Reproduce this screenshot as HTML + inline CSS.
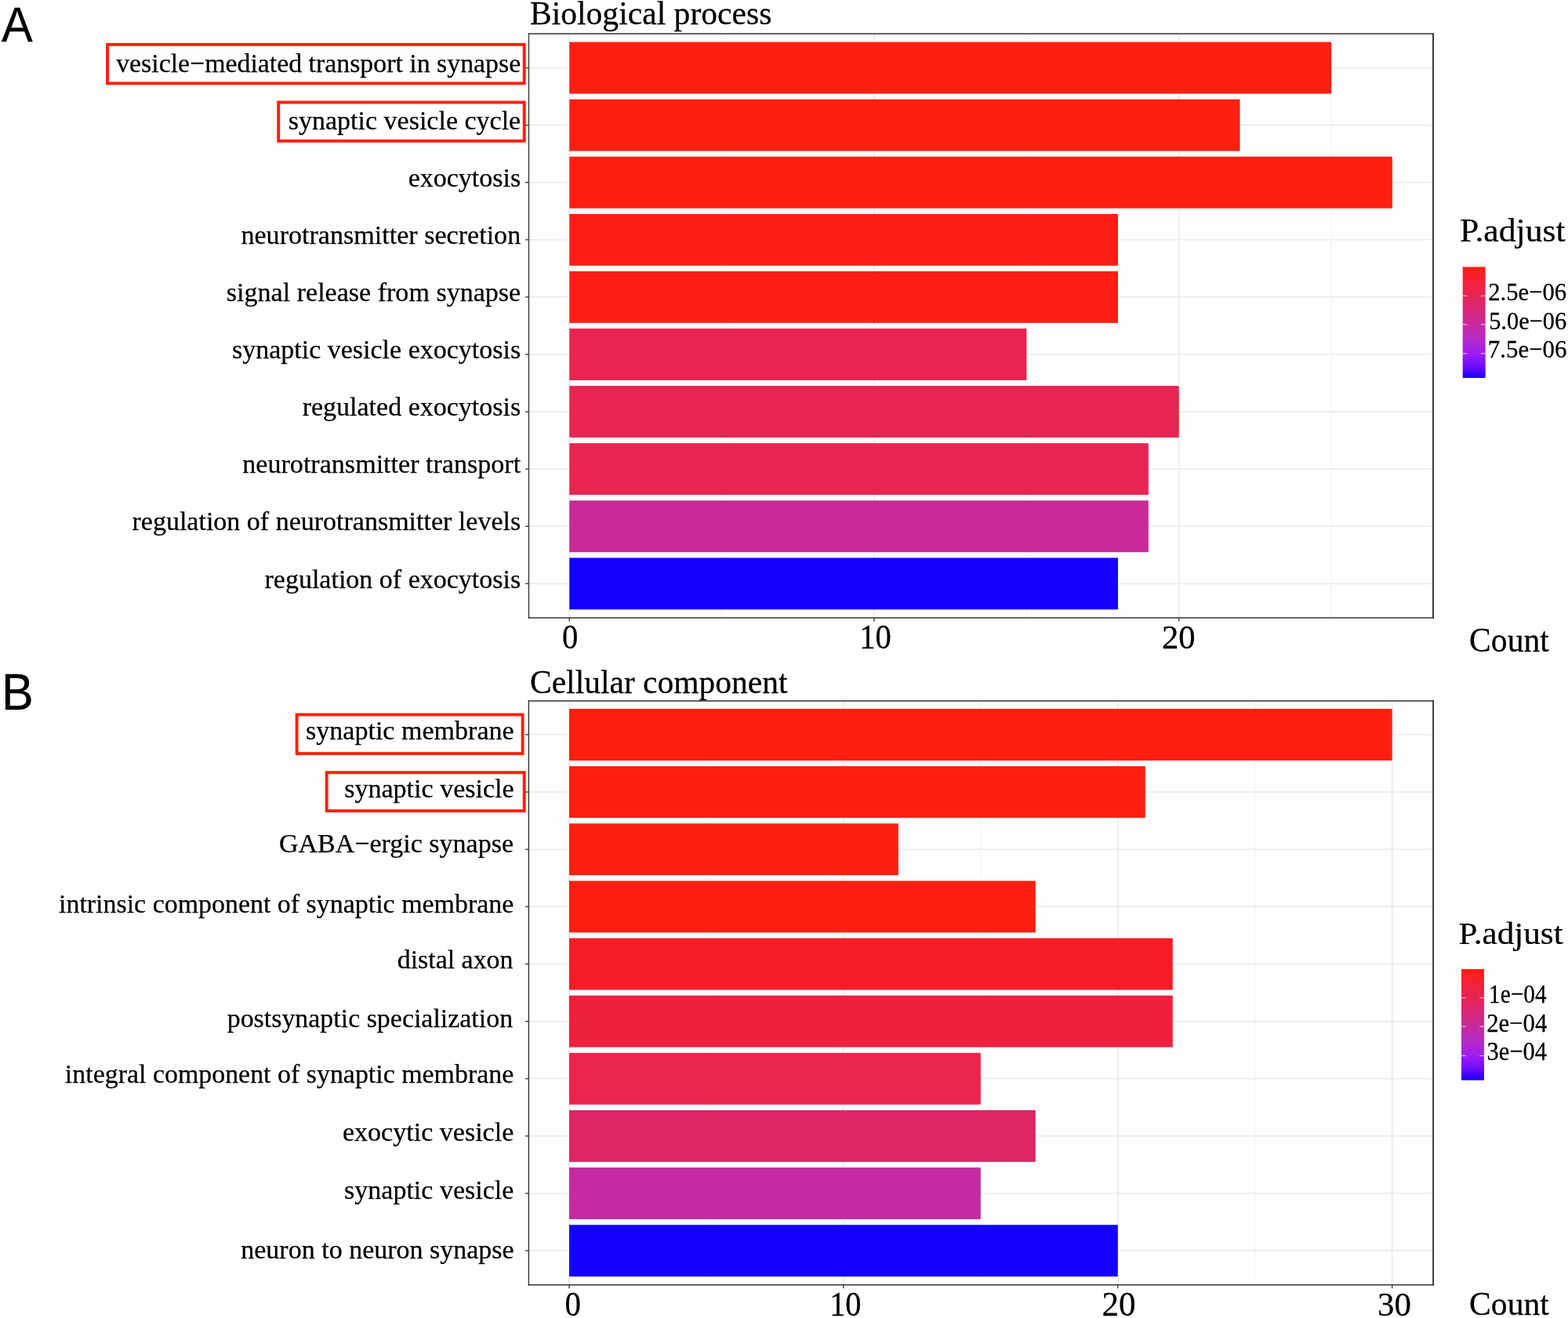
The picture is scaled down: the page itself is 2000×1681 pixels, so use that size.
<!DOCTYPE html><html><head><meta charset="utf-8"><title>GO enrichment barplots</title><style>html,body{margin:0;padding:0;background:#fefefe;overflow:hidden}svg{display:block}text{stroke:#000;stroke-width:0.25px}</style></head><body>
<svg width="2000" height="1681" viewBox="0 0 2000 1681">
<defs><linearGradient id="gA" x1="0" y1="0" x2="0" y2="1"><stop offset="0" stop-color="#FF1F10"/><stop offset="0.13" stop-color="#F4213A"/><stop offset="0.26" stop-color="#E72455"/><stop offset="0.39" stop-color="#D9277A"/><stop offset="0.52" stop-color="#C82A9E"/><stop offset="0.65" stop-color="#B52AC9"/><stop offset="0.78" stop-color="#A01DF3"/><stop offset="0.9" stop-color="#6A0CFF"/><stop offset="1" stop-color="#1500FF"/></linearGradient></defs>
<rect width="2000" height="1681" fill="#fefefe"/>
<line x1="920.62" y1="43.0" x2="920.62" y2="788.0" stroke="#F3F3F3" stroke-width="1.2"/>
<line x1="1309.38" y1="43.0" x2="1309.38" y2="788.0" stroke="#F3F3F3" stroke-width="1.2"/>
<line x1="1698.12" y1="43.0" x2="1698.12" y2="788.0" stroke="#F3F3F3" stroke-width="1.2"/>
<line x1="726.25" y1="43.0" x2="726.25" y2="788.0" stroke="#EBEBEB" stroke-width="1.8"/>
<line x1="1115.00" y1="43.0" x2="1115.00" y2="788.0" stroke="#EBEBEB" stroke-width="1.8"/>
<line x1="1503.75" y1="43.0" x2="1503.75" y2="788.0" stroke="#EBEBEB" stroke-width="1.8"/>
<line x1="674.5" y1="86.50" x2="1828.0" y2="86.50" stroke="#EBEBEB" stroke-width="1.6"/>
<line x1="674.5" y1="159.60" x2="1828.0" y2="159.60" stroke="#EBEBEB" stroke-width="1.6"/>
<line x1="674.5" y1="232.70" x2="1828.0" y2="232.70" stroke="#EBEBEB" stroke-width="1.6"/>
<line x1="674.5" y1="305.80" x2="1828.0" y2="305.80" stroke="#EBEBEB" stroke-width="1.6"/>
<line x1="674.5" y1="378.90" x2="1828.0" y2="378.90" stroke="#EBEBEB" stroke-width="1.6"/>
<line x1="674.5" y1="452.00" x2="1828.0" y2="452.00" stroke="#EBEBEB" stroke-width="1.6"/>
<line x1="674.5" y1="525.10" x2="1828.0" y2="525.10" stroke="#EBEBEB" stroke-width="1.6"/>
<line x1="674.5" y1="598.20" x2="1828.0" y2="598.20" stroke="#EBEBEB" stroke-width="1.6"/>
<line x1="674.5" y1="671.30" x2="1828.0" y2="671.30" stroke="#EBEBEB" stroke-width="1.6"/>
<line x1="674.5" y1="744.40" x2="1828.0" y2="744.40" stroke="#EBEBEB" stroke-width="1.6"/>
<rect x="726.25" y="53.55" width="971.88" height="65.9" fill="#FF1F10"/>
<rect x="726.25" y="126.65" width="855.25" height="65.9" fill="#FF1F10"/>
<rect x="726.25" y="199.75" width="1049.62" height="65.9" fill="#FF1F10"/>
<rect x="726.25" y="272.85" width="699.75" height="65.9" fill="#FE1E17"/>
<rect x="726.25" y="345.95" width="699.75" height="65.9" fill="#FE1E17"/>
<rect x="726.25" y="419.05" width="583.12" height="65.9" fill="#EA2450"/>
<rect x="726.25" y="492.15" width="777.50" height="65.9" fill="#EA2450"/>
<rect x="726.25" y="565.25" width="738.62" height="65.9" fill="#EA2450"/>
<rect x="726.25" y="638.35" width="738.62" height="65.9" fill="#C92A98"/>
<rect x="726.25" y="711.45" width="699.75" height="65.9" fill="#1500FF"/>
<g stroke="#333" stroke-linecap="square"><line x1="674.5" y1="43.0" x2="1828.0" y2="43.0" stroke-width="1.3"/><line x1="1828.0" y1="43.0" x2="1828.0" y2="788.0" stroke-width="1.9"/><line x1="674.5" y1="788.0" x2="1828.0" y2="788.0" stroke-width="1.5"/><line x1="674.5" y1="43.0" x2="674.5" y2="788.0" stroke-width="1.3"/></g>
<line x1="670.0" y1="86.50" x2="674.5" y2="86.50" stroke="#333" stroke-width="1.3"/>
<line x1="670.0" y1="159.60" x2="674.5" y2="159.60" stroke="#333" stroke-width="1.3"/>
<line x1="670.0" y1="232.70" x2="674.5" y2="232.70" stroke="#333" stroke-width="1.3"/>
<line x1="670.0" y1="305.80" x2="674.5" y2="305.80" stroke="#333" stroke-width="1.3"/>
<line x1="670.0" y1="378.90" x2="674.5" y2="378.90" stroke="#333" stroke-width="1.3"/>
<line x1="670.0" y1="452.00" x2="674.5" y2="452.00" stroke="#333" stroke-width="1.3"/>
<line x1="670.0" y1="525.10" x2="674.5" y2="525.10" stroke="#333" stroke-width="1.3"/>
<line x1="670.0" y1="598.20" x2="674.5" y2="598.20" stroke="#333" stroke-width="1.3"/>
<line x1="670.0" y1="671.30" x2="674.5" y2="671.30" stroke="#333" stroke-width="1.3"/>
<line x1="670.0" y1="744.40" x2="674.5" y2="744.40" stroke="#333" stroke-width="1.3"/>
<line x1="726.25" y1="788.0" x2="726.25" y2="792.5" stroke="#333" stroke-width="1.3"/>
<line x1="1115.00" y1="788.0" x2="1115.00" y2="792.5" stroke="#333" stroke-width="1.3"/>
<line x1="1503.75" y1="788.0" x2="1503.75" y2="792.5" stroke="#333" stroke-width="1.3"/>
<g font-family="'Liberation Serif','Times New Roman',Times,serif">
<text x="664.2" y="91.6" font-size="33.85" text-anchor="end">vesicle−mediated transport in synapse</text>
<text x="664.2" y="164.8" font-size="34" text-anchor="end">synaptic vesicle cycle</text>
<text x="664.2" y="238.0" font-size="34" text-anchor="end">exocytosis</text>
<text x="664.2" y="311.0" font-size="34.1" text-anchor="end">neurotransmitter secretion</text>
<text x="664.2" y="384.0" font-size="34.05" text-anchor="end">signal release from synapse</text>
<text x="664.2" y="457.1" font-size="34" text-anchor="end">synaptic vesicle exocytosis</text>
<text x="664.2" y="530.0" font-size="34" text-anchor="end">regulated exocytosis</text>
<text x="664.2" y="603.2" font-size="34.1" text-anchor="end">neurotransmitter transport</text>
<text x="664.2" y="676.4" font-size="34" text-anchor="end">regulation of neurotransmitter levels</text>
<text x="664.2" y="749.6" font-size="34" text-anchor="end">regulation of exocytosis</text>
</g>
<text transform="translate(717.05,826.51) scale(1,1.0713)" font-family="'Liberation Serif','Times New Roman',Times,serif" font-size="40.64">0</text>
<text transform="translate(1096.21,826.51) scale(1,1.0723)" font-family="'Liberation Serif','Times New Roman',Times,serif" font-size="40.61">10</text>
<text transform="translate(1481.90,826.80) scale(1,1.0096)" font-family="'Liberation Serif','Times New Roman',Times,serif" font-size="42.72">20</text>
<text transform="translate(675.89,31.30) scale(1,1.0062)" font-family="'Liberation Serif','Times New Roman',Times,serif" font-size="41.62">Biological process</text>
<rect x="137.0" y="56.8" width="531.7" height="49.5" fill="none" stroke="#FF1E0E" stroke-width="3.9"/>
<rect x="355.2" y="130.5" width="313.50000000000006" height="49.30000000000001" fill="none" stroke="#FF1E0E" stroke-width="3.9"/>
<line x1="900.95" y1="894.0" x2="900.95" y2="1638.7" stroke="#F3F3F3" stroke-width="1.2"/>
<line x1="1250.85" y1="894.0" x2="1250.85" y2="1638.7" stroke="#F3F3F3" stroke-width="1.2"/>
<line x1="1600.75" y1="894.0" x2="1600.75" y2="1638.7" stroke="#F3F3F3" stroke-width="1.2"/>
<line x1="726.00" y1="894.0" x2="726.00" y2="1638.7" stroke="#EBEBEB" stroke-width="1.8"/>
<line x1="1075.90" y1="894.0" x2="1075.90" y2="1638.7" stroke="#EBEBEB" stroke-width="1.8"/>
<line x1="1425.80" y1="894.0" x2="1425.80" y2="1638.7" stroke="#EBEBEB" stroke-width="1.8"/>
<line x1="1775.70" y1="894.0" x2="1775.70" y2="1638.7" stroke="#EBEBEB" stroke-width="1.8"/>
<line x1="674.4" y1="937.00" x2="1828.1" y2="937.00" stroke="#EBEBEB" stroke-width="1.6"/>
<line x1="674.4" y1="1010.13" x2="1828.1" y2="1010.13" stroke="#EBEBEB" stroke-width="1.6"/>
<line x1="674.4" y1="1083.26" x2="1828.1" y2="1083.26" stroke="#EBEBEB" stroke-width="1.6"/>
<line x1="674.4" y1="1156.39" x2="1828.1" y2="1156.39" stroke="#EBEBEB" stroke-width="1.6"/>
<line x1="674.4" y1="1229.52" x2="1828.1" y2="1229.52" stroke="#EBEBEB" stroke-width="1.6"/>
<line x1="674.4" y1="1302.65" x2="1828.1" y2="1302.65" stroke="#EBEBEB" stroke-width="1.6"/>
<line x1="674.4" y1="1375.78" x2="1828.1" y2="1375.78" stroke="#EBEBEB" stroke-width="1.6"/>
<line x1="674.4" y1="1448.91" x2="1828.1" y2="1448.91" stroke="#EBEBEB" stroke-width="1.6"/>
<line x1="674.4" y1="1522.04" x2="1828.1" y2="1522.04" stroke="#EBEBEB" stroke-width="1.6"/>
<line x1="674.4" y1="1595.17" x2="1828.1" y2="1595.17" stroke="#EBEBEB" stroke-width="1.6"/>
<rect x="726.00" y="904.05" width="1049.70" height="65.9" fill="#FF1F10"/>
<rect x="726.00" y="977.18" width="734.79" height="65.9" fill="#FF1F10"/>
<rect x="726.00" y="1050.31" width="419.88" height="65.9" fill="#FF1F10"/>
<rect x="726.00" y="1123.44" width="594.83" height="65.9" fill="#FF1F10"/>
<rect x="726.00" y="1196.57" width="769.78" height="65.9" fill="#F51C28"/>
<rect x="726.00" y="1269.70" width="769.78" height="65.9" fill="#F0213E"/>
<rect x="726.00" y="1342.83" width="524.85" height="65.9" fill="#EA2550"/>
<rect x="726.00" y="1415.96" width="594.83" height="65.9" fill="#DD2566"/>
<rect x="726.00" y="1489.09" width="524.85" height="65.9" fill="#C52AA0"/>
<rect x="726.00" y="1562.22" width="699.80" height="65.9" fill="#1500FF"/>
<g stroke="#333" stroke-linecap="square"><line x1="674.4" y1="894.0" x2="1828.1" y2="894.0" stroke-width="1.6"/><line x1="1828.1" y1="894.0" x2="1828.1" y2="1638.7" stroke-width="1.9"/><line x1="674.4" y1="1638.7" x2="1828.1" y2="1638.7" stroke-width="1.5"/><line x1="674.4" y1="894.0" x2="674.4" y2="1638.7" stroke-width="1.4"/></g>
<line x1="669.9" y1="937.00" x2="674.4" y2="937.00" stroke="#333" stroke-width="1.3"/>
<line x1="669.9" y1="1010.13" x2="674.4" y2="1010.13" stroke="#333" stroke-width="1.3"/>
<line x1="669.9" y1="1083.26" x2="674.4" y2="1083.26" stroke="#333" stroke-width="1.3"/>
<line x1="669.9" y1="1156.39" x2="674.4" y2="1156.39" stroke="#333" stroke-width="1.3"/>
<line x1="669.9" y1="1229.52" x2="674.4" y2="1229.52" stroke="#333" stroke-width="1.3"/>
<line x1="669.9" y1="1302.65" x2="674.4" y2="1302.65" stroke="#333" stroke-width="1.3"/>
<line x1="669.9" y1="1375.78" x2="674.4" y2="1375.78" stroke="#333" stroke-width="1.3"/>
<line x1="669.9" y1="1448.91" x2="674.4" y2="1448.91" stroke="#333" stroke-width="1.3"/>
<line x1="669.9" y1="1522.04" x2="674.4" y2="1522.04" stroke="#333" stroke-width="1.3"/>
<line x1="669.9" y1="1595.17" x2="674.4" y2="1595.17" stroke="#333" stroke-width="1.3"/>
<line x1="726.00" y1="1638.7" x2="726.00" y2="1643.2" stroke="#333" stroke-width="1.3"/>
<line x1="1075.90" y1="1638.7" x2="1075.90" y2="1643.2" stroke="#333" stroke-width="1.3"/>
<line x1="1425.80" y1="1638.7" x2="1425.80" y2="1643.2" stroke="#333" stroke-width="1.3"/>
<line x1="1775.70" y1="1638.7" x2="1775.70" y2="1643.2" stroke="#333" stroke-width="1.3"/>
<g font-family="'Liberation Serif','Times New Roman',Times,serif">
<text x="655.7" y="943.4" font-size="34.05" text-anchor="end">synaptic membrane</text>
<text x="655.7" y="1017.2" font-size="34.05" text-anchor="end">synaptic vesicle</text>
<text x="655.0" y="1087.4" font-size="34" text-anchor="end">GABA−ergic synapse</text>
<text x="655.3" y="1164.0" font-size="33.94" text-anchor="end">intrinsic component of synaptic membrane</text>
<text x="654.5" y="1235.4" font-size="33.9" text-anchor="end">distal axon</text>
<text x="654.1" y="1309.8" font-size="33.92" text-anchor="end">postsynaptic specialization</text>
<text x="655.3" y="1380.7" font-size="33.92" text-anchor="end">integral component of synaptic membrane</text>
<text x="655.3" y="1454.8" font-size="34.05" text-anchor="end">exocytic vesicle</text>
<text x="655.3" y="1529.2" font-size="34" text-anchor="end">synaptic vesicle</text>
<text x="655.7" y="1604.9" font-size="34" text-anchor="end">neuron to neuron synapse</text>
</g>
<text transform="translate(720.49,1677.59) scale(1,1.0865)" font-family="'Liberation Serif','Times New Roman',Times,serif" font-size="40.89">0</text>
<text transform="translate(1058.18,1677.59) scale(1,1.0998)" font-family="'Liberation Serif','Times New Roman',Times,serif" font-size="40.40">10</text>
<text transform="translate(1405.46,1677.59) scale(1,1.0290)" font-family="'Liberation Serif','Times New Roman',Times,serif" font-size="43.18">20</text>
<text transform="translate(1757.00,1678.10) scale(1,1.0012)" font-family="'Liberation Serif','Times New Roman',Times,serif" font-size="42.90">30</text>
<text transform="translate(675.99,883.89) scale(1,1.0045)" font-family="'Liberation Serif','Times New Roman',Times,serif" font-size="41.53">Cellular component</text>
<rect x="378.6" y="911.5" width="288.0" height="49.60000000000002" fill="none" stroke="#FF1E0E" stroke-width="3.9"/>
<rect x="416.7" y="985.3" width="252.00000000000006" height="48.90000000000009" fill="none" stroke="#FF1E0E" stroke-width="3.9"/>
<text transform="translate(1874.08,831.30) scale(1,1.0612)" font-family="'Liberation Serif','Times New Roman',Times,serif" font-size="41.65">Count</text>
<text transform="translate(1874.08,1677.45) scale(1,1.0314)" font-family="'Liberation Serif','Times New Roman',Times,serif" font-size="41.65">Count</text>
<text transform="translate(1861.98,307.89) scale(1,0.9653)" font-family="'Liberation Serif','Times New Roman',Times,serif" font-size="43.72">P.adjust</text>
<rect x="1865.7" y="340.4" width="29.0" height="141.60000000000002" fill="url(#gA)"/>
<line x1="1865.7" y1="377.3" x2="1871.5" y2="377.3" stroke="#fff" stroke-opacity="0.75" stroke-width="1.1"/>
<line x1="1888.9" y1="377.3" x2="1894.7" y2="377.3" stroke="#fff" stroke-opacity="0.75" stroke-width="1.1"/>
<line x1="1865.7" y1="413.9" x2="1871.5" y2="413.9" stroke="#fff" stroke-opacity="0.75" stroke-width="1.1"/>
<line x1="1888.9" y1="413.9" x2="1894.7" y2="413.9" stroke="#fff" stroke-opacity="0.75" stroke-width="1.1"/>
<line x1="1865.7" y1="450.9" x2="1871.5" y2="450.9" stroke="#fff" stroke-opacity="0.75" stroke-width="1.1"/>
<line x1="1888.9" y1="450.9" x2="1894.7" y2="450.9" stroke="#fff" stroke-opacity="0.75" stroke-width="1.1"/>
<text transform="translate(1898.18,382.92) scale(1,1.0589)" font-family="'Liberation Serif','Times New Roman',Times,serif" font-size="30.68">2.5e−06</text>
<text transform="translate(1899.19,419.92) scale(1,1.0698)" font-family="'Liberation Serif','Times New Roman',Times,serif" font-size="30.37">5.0e−06</text>
<text transform="translate(1897.86,456.23) scale(1,1.0523)" font-family="'Liberation Serif','Times New Roman',Times,serif" font-size="30.87">7.5e−06</text>
<text transform="translate(1860.48,1203.96) scale(1,0.9367)" font-family="'Liberation Serif','Times New Roman',Times,serif" font-size="43.20">P.adjust</text>
<rect x="1864" y="1236" width="29" height="141.70000000000005" fill="url(#gA)"/>
<line x1="1864" y1="1272.6" x2="1869.8" y2="1272.6" stroke="#fff" stroke-opacity="0.75" stroke-width="1.1"/>
<line x1="1887.2" y1="1272.6" x2="1893" y2="1272.6" stroke="#fff" stroke-opacity="0.75" stroke-width="1.1"/>
<line x1="1864" y1="1309.2" x2="1869.8" y2="1309.2" stroke="#fff" stroke-opacity="0.75" stroke-width="1.1"/>
<line x1="1887.2" y1="1309.2" x2="1893" y2="1309.2" stroke="#fff" stroke-opacity="0.75" stroke-width="1.1"/>
<line x1="1864" y1="1346.5" x2="1869.8" y2="1346.5" stroke="#fff" stroke-opacity="0.75" stroke-width="1.1"/>
<line x1="1887.2" y1="1346.5" x2="1893" y2="1346.5" stroke="#fff" stroke-opacity="0.75" stroke-width="1.1"/>
<text transform="translate(1899.08,1279.25) scale(1,1.1611)" font-family="'Liberation Serif','Times New Roman',Times,serif" font-size="29.31">1e−04</text>
<text transform="translate(1896.17,1316.28) scale(1,1.0795)" font-family="'Liberation Serif','Times New Roman',Times,serif" font-size="30.80">2e−04</text>
<text transform="translate(1896.58,1352.03) scale(1,1.1058)" font-family="'Liberation Serif','Times New Roman',Times,serif" font-size="30.47">3e−04</text>
<text transform="translate(2.00,52.68) scale(1,1.0665)" font-family="'Liberation Sans',Arial,Helvetica,sans-serif" font-size="59.53">A</text>
<text transform="translate(2.00,904.61) scale(1,1.0484)" font-family="'Liberation Sans',Arial,Helvetica,sans-serif" font-size="61.04">B</text>
</svg></body></html>
